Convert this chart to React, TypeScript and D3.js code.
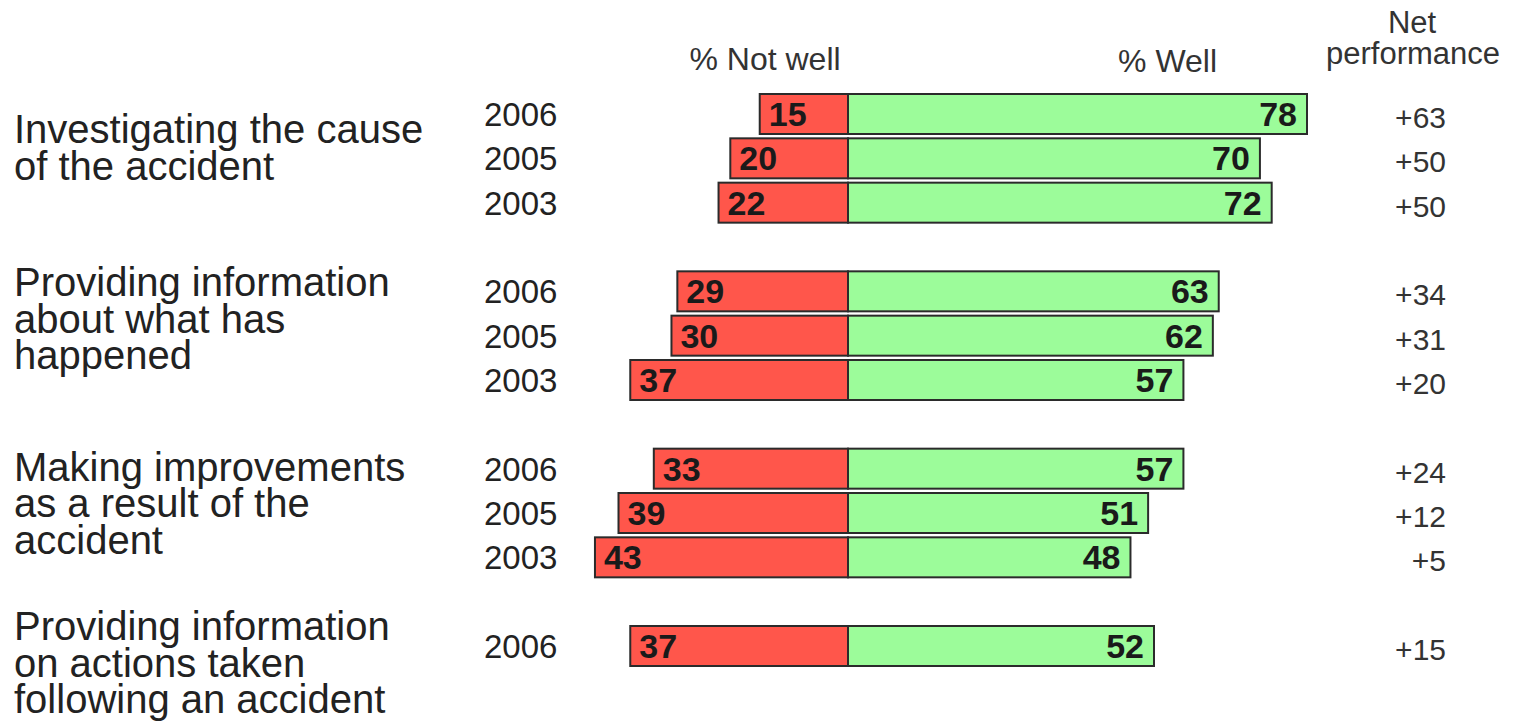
import React from "react";
import * as d3 from "d3";

const categories: string[][] = [
  ["Investigating the cause", "of the accident"],
  ["Providing information", "about what has", "happened"],
  ["Making improvements", "as a result of the", "accident"],
  ["Providing information", "on actions taken", "following an accident"],
];
const years: string[][] = [
  ["2006", "2005", "2003"],
  ["2006", "2005", "2003"],
  ["2006", "2005", "2003"],
  ["2006"],
];
const notWell: number[][] = [
  [15, 20, 22],
  [29, 30, 37],
  [33, 39, 43],
  [37],
];
const well: number[][] = [
  [78, 70, 72],
  [63, 62, 57],
  [57, 51, 48],
  [52],
];
const net: number[][] = [
  [63, 50, 50],
  [34, 31, 20],
  [24, 12, 5],
  [15],
];
const headers = { notWell: "% Not well", well: "% Well", net: ["Net", "performance"] };

// layout constants (not data)
const W = 1519;
const H = 724;
const labelFirstBaseline = [49, 25, 32, 14];
const FONT = "Arial, 'Liberation Sans', sans-serif";

export default function App() {
  const x = d3.scaleLinear().domain([0, 78]).range([848, 1307]);
  const xNeg = (v: number) => x(0) - (x(v) - x(0));

  // rows: each group takes its rows plus one gap slot
  const rows: { g: number; i: number; slot: number }[] = [];
  let slot = 0;
  years.forEach((ys, g) => {
    ys.forEach((_, i) => {
      rows.push({ g, i, slot });
      slot += 1;
    });
    slot += 1;
  });
  const lastSlot = rows[rows.length - 1].slot;
  const yTop = d3.scaleLinear().domain([0, lastSlot]).range([94, 626]);
  const barH = 40;
  const groupFirstSlot = years.map((_, g) => rows.find((r) => r.g === g)!.slot);

  const stroke = "#2b2b2b";
  const red = "#FF564B";
  const green = "#9CFC9A";

  return (
    <svg
      width={W}
      height={H}
      style={{ position: "absolute", left: 0, top: 0, background: "#fff" }}
      fontFamily={FONT}
    >
      {/* headers */}
      <text x={xNeg(14.1)} y={70} fontSize={32} fill="#333" textAnchor="middle">
        {headers.notWell}
      </text>
      <text x={x(54.3)} y={72} fontSize={32} fill="#333" textAnchor="middle">
        {headers.well}
      </text>
      <text x={1412} y={33} fontSize={31} fill="#333" textAnchor="middle">
        {headers.net[0]}
      </text>
      <text x={1413} y={64} fontSize={31} fill="#333" textAnchor="middle">
        {headers.net[1]}
      </text>

      {/* category labels */}
      {categories.map((lines, g) => (
        <text
          key={"c" + g}
          x={14}
          y={yTop(groupFirstSlot[g]) + labelFirstBaseline[g]}
          fontSize={40}
          fill="#222"
        >
          {lines.map((l, k) => (
            <tspan key={k} x={14} dy={k === 0 ? 0 : 36.5}>
              {l}
            </tspan>
          ))}
        </text>
      ))}

      {rows.map((r) => {
        const top = yTop(r.slot);
        const cy = top + barH / 2;
        const nw = notWell[r.g][r.i];
        const w = well[r.g][r.i];
        const n = net[r.g][r.i];
        return (
          <g key={"r" + r.slot}>
            <text x={484} y={cy + 12} fontSize={33} fill="#222">
              {years[r.g][r.i]}
            </text>
            <rect
              x={xNeg(nw)}
              y={top}
              width={x(0) - xNeg(nw)}
              height={barH}
              fill={red}
              stroke={stroke}
              strokeWidth={2}
            />
            <rect
              x={x(0)}
              y={top}
              width={x(w) - x(0)}
              height={barH}
              fill={green}
              stroke={stroke}
              strokeWidth={2}
            />
            <text
              x={xNeg(nw) + 9}
              y={cy + 12}
              fontSize={34}
              fontWeight="bold"
              fill="#1a1a1a"
            >
              {nw}
            </text>
            <text
              x={x(w) - 10}
              y={cy + 12}
              fontSize={34}
              fontWeight="bold"
              fill="#1a1a1a"
              textAnchor="end"
            >
              {w}
            </text>
            <text x={1446} y={cy + 14} fontSize={30} fill="#333" textAnchor="end">
              {"+" + n}
            </text>
          </g>
        );
      })}
    </svg>
  );
}
